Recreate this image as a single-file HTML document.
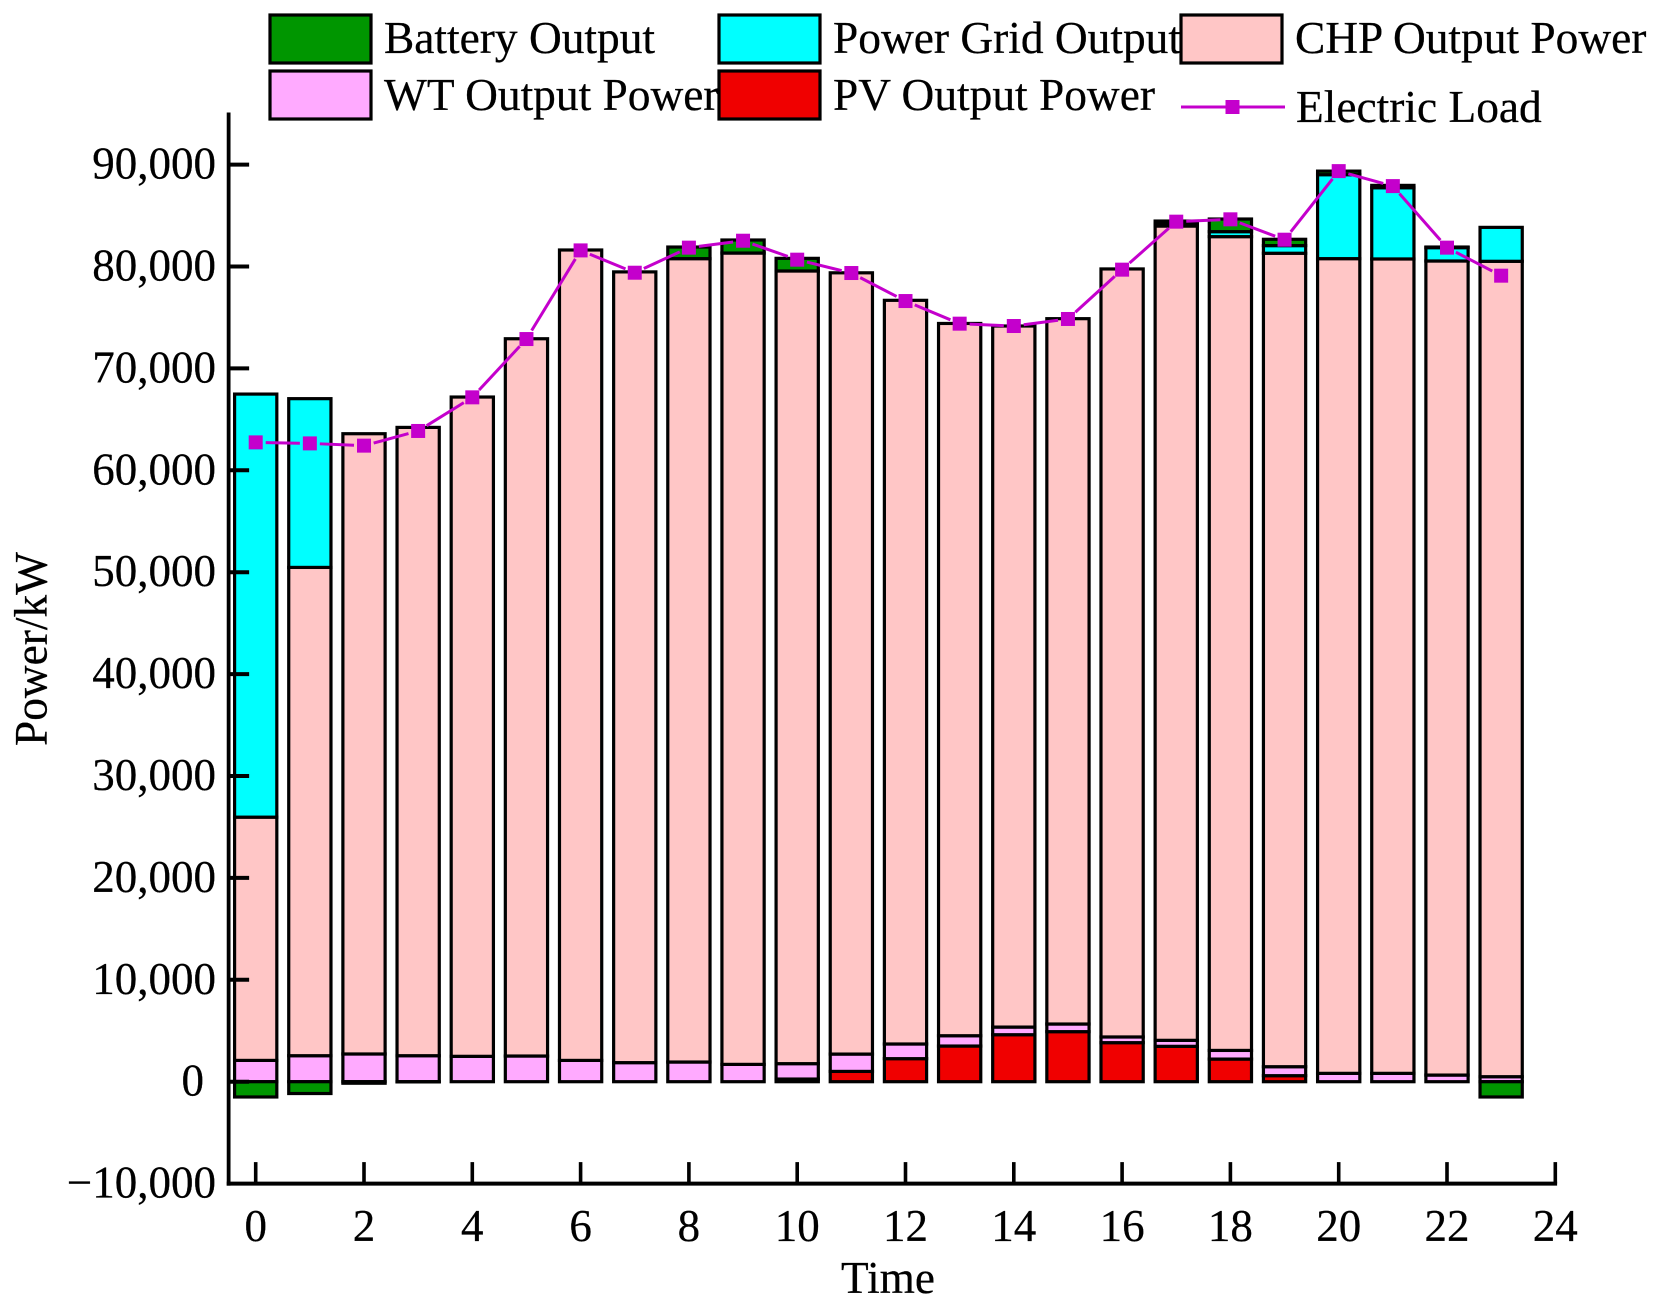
<!DOCTYPE html>
<html lang="en">
<head>
<meta charset="utf-8">
<title>Power stacked bar chart</title>
<style>
  html, body { margin: 0; padding: 0; background: #fff; }
  #chart { display: block; width: 1659px; height: 1306px; }
  text { font-family: "Liberation Serif", "Times New Roman", serif; fill: #000; stroke: #000; stroke-width: 0.25px; }
</style>
</head>
<body>
<svg id="chart" xmlns="http://www.w3.org/2000/svg" width="1659" height="1306" viewBox="0 0 1659 1306">
  <g id="bars"></g>
  <g id="axes"></g>
  <g id="load"></g>
  <g id="legend">
    <g>
      <rect x="270" y="15" width="101" height="48" fill="#009600" stroke="#000" stroke-width="3.2"/>
      <text x="384" y="53" font-size="45.4">Battery Output</text>
    </g>
    <g>
      <rect x="719" y="15" width="101" height="48" fill="#00ffff" stroke="#000" stroke-width="3.2"/>
      <text x="833" y="53" font-size="45.4">Power Grid Output</text>
    </g>
    <g>
      <rect x="1181" y="15" width="101" height="48" fill="#ffc6c6" stroke="#000" stroke-width="3.2"/>
      <text x="1295" y="53" font-size="45.4">CHP Output Power</text>
    </g>
    <g>
      <rect x="270" y="71" width="101" height="48" fill="#ffaaff" stroke="#000" stroke-width="3.2"/>
      <text x="384" y="110" font-size="45.4">WT Output Power</text>
    </g>
    <g>
      <rect x="719" y="71" width="101" height="48" fill="#f00000" stroke="#000" stroke-width="3.2"/>
      <text x="833" y="110" font-size="45.4">PV Output Power</text>
    </g>
    <g>
      <line x1="1181" y1="107" x2="1285" y2="107" stroke="#c400cc" stroke-width="3"/>
      <rect x="1225.5" y="100" width="14" height="14" fill="#c400cc"/>
      <text x="1296" y="122" font-size="45.4">Electric Load</text>
    </g>
  </g>
  <text x="841" y="1293" font-size="45" textLength="94" lengthAdjust="spacingAndGlyphs">Time</text>
  <text transform="translate(46.7 746) rotate(-90)" x="0" y="0" font-size="47" textLength="194" lengthAdjust="spacingAndGlyphs">Power/kW</text>
</svg>
<script>
const hours = [0,1,2,3,4,5,6,7,8,9,10,11,12,13,14,15,16,17,18,19,20,21,22,23];
const pvOutput = [0,0,0,0,0,0,0,0,0,0,260,1010,2260,3500,4610,4910,3830,3470,2220,590,0,0,0,0];
const wtOutput = [2090,2550,2720,2550,2490,2520,2090,1870,1930,1700,1510,1700,1440,1010,750,750,560,590,850,880,820,820,650,490];
const chpOutput = [23870,47920,60870,61660,64700,70390,79530,77600,78840,79620,77790,76670,72980,69900,68800,69220,75370,79910,79860,79830,79950,79920,79890,80020];
const gridOutput = [41520,16560,0,0,0,0,0,0,0,0,0,0,0,0,0,0,0,200,490,750,8240,6990,1310,3330];
const batteryOutput = [-1500,-1160,-150,-20,0,0,0,0,1140,1280,1240,0,0,0,0,0,0,290,1240,620,350,230,60,-1500];
const electricLoad = [62740,62640,62420,63860,67160,72880,81580,79390,81850,82530,80670,79360,76610,74390,74160,74850,79690,84400,84630,82630,89360,87890,81850,79100];
const yTickValues = [-10000,0,10000,20000,30000,40000,50000,60000,70000,80000,90000];
const yTickLabels = ["\u221210,000","0","10,000","20,000","30,000","40,000","50,000","60,000","70,000","80,000","90,000"];
const xTickValues = [0,2,4,6,8,10,12,14,16,18,20,22,24];
const xTickLabels = ["0","2","4","6","8","10","12","14","16","18","20","22","24"];

const SVG_NS = "http://www.w3.org/2000/svg";
const xScale = function (v) { return 255.7 + v * 54.15; };
const yScale = function (v) { return 1081.7 - v * 0.01019; };
const BAR_WIDTH_UNITS = 0.78;

function make(tag, parent, attrs) {
  const el = document.createElementNS(SVG_NS, tag);
  for (const key in attrs) { el.setAttribute(key, attrs[key]); }
  parent.appendChild(el);
  return el;
}

const barsGroup = document.getElementById("bars");
const axesGroup = document.getElementById("axes");
const loadGroup = document.getElementById("load");

function drawSegment(hour, from, to, color, name) {
  if (from === to) { return; }
  const top = yScale(Math.max(from, to));
  const bottom = yScale(Math.min(from, to));
  const rect = make("rect", barsGroup, {
    x: xScale(hour - BAR_WIDTH_UNITS / 2),
    y: top,
    width: xScale(BAR_WIDTH_UNITS) - xScale(0),
    height: bottom - top,
    fill: color,
    stroke: "#000",
    "stroke-width": 3.2
  });
  
  
}

hours.forEach(function (hour, i) {
  let base = 0;
  drawSegment(hour, base, base + pvOutput[i], "#f00000", "pv");
  base += pvOutput[i];
  drawSegment(hour, base, base + wtOutput[i], "#ffaaff", "wt");
  base += wtOutput[i];
  drawSegment(hour, base, base + chpOutput[i], "#ffc6c6", "chp");
  base += chpOutput[i];
  drawSegment(hour, base, base + gridOutput[i], "#00ffff", "grid");
  base += gridOutput[i];
  if (batteryOutput[i] > 0) {
    drawSegment(hour, base, base + batteryOutput[i], "#009600", "battery");
  } else if (batteryOutput[i] < 0) {
    drawSegment(hour, 0, batteryOutput[i], "#009600", "battery");
  }
});

const axisX = xScale(-0.5);
const axisY = yScale(-10000);

const yAxisLine = make("line", axesGroup, { x1: axisX, y1: 112.5, x2: axisX, y2: axisY + 2, stroke: "#000", "stroke-width": 3.8 });



const xAxisLine = make("line", axesGroup, { x1: axisX - 1.9, y1: axisY, x2: xScale(24) + 1.8, y2: axisY, stroke: "#000", "stroke-width": 4 });



yTickValues.forEach(function (value, i) {
  const y = yScale(value);
  if (value !== -10000) {
    const tick = make("line", axesGroup, { x1: axisX, y1: y, x2: axisX + 20.5, y2: y, stroke: "#000", "stroke-width": 4 });
    
    
  }
  const label = make("text", axesGroup, { x: value === 0 ? 204 : 216, y: y + 14, "font-size": 45, "text-anchor": "end" });
  label.textContent = yTickLabels[i];
  
  
});

xTickValues.forEach(function (value, i) {
  const x = xScale(value);
  const tick = make("line", axesGroup, { x1: x, y1: axisY - 21.5, x2: x, y2: axisY, stroke: "#000", "stroke-width": 3.6 });
  
  
  const label = make("text", axesGroup, { x: x, y: 1241, "font-size": 45, "text-anchor": "middle" });
  label.textContent = xTickLabels[i];
  
  
});

const LINE_GAP = 10;
for (let i = 0; i < hours.length - 1; i++) {
  const x1 = xScale(hours[i]);
  const y1 = yScale(electricLoad[i]);
  const x2 = xScale(hours[i + 1]);
  const y2 = yScale(electricLoad[i + 1]);
  const len = Math.hypot(x2 - x1, y2 - y1);
  const ux = (x2 - x1) / len;
  const uy = (y2 - y1) / len;
  const seg = make("line", loadGroup, {
    x1: x1 + ux * LINE_GAP,
    y1: y1 + uy * LINE_GAP,
    x2: x2 - ux * LINE_GAP,
    y2: y2 - uy * LINE_GAP,
    stroke: "#c400cc",
    "stroke-width": 3
  });
  
  
}

hours.forEach(function (hour, i) {
  const marker = make("rect", loadGroup, {
    x: xScale(hour) - 7,
    y: yScale(electricLoad[i]) - 7,
    width: 14,
    height: 14,
    fill: "#c400cc"
  });
  
  
});
</script>
</body>
</html>
